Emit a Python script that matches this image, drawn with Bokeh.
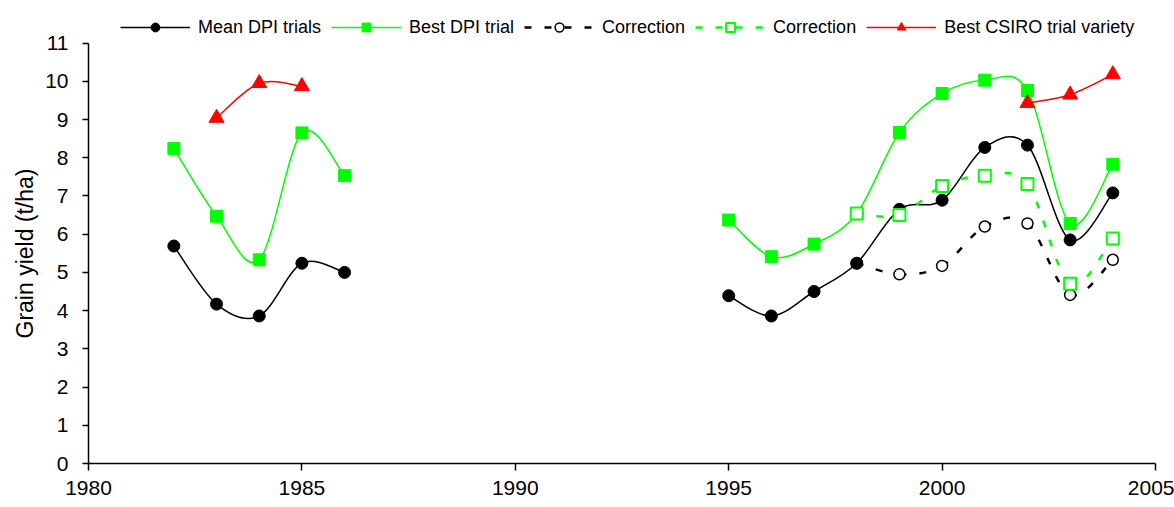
import math
from bokeh.plotting import figure
from bokeh.models import Range1d, FixedTicker, Legend, LegendItem, ColumnDataSource, Title
from bokeh.core.properties import value
from bokeh.embed import file_html
from bokeh.resources import INLINE

# ---------------- data ----------------
years_early = [1982, 1983, 1984, 1985, 1986]
mean_early = [5.69, 4.17, 3.86, 5.24, 5.00]
best_early = [8.24, 6.47, 5.33, 8.65, 7.53]

csiro_years_early = [1983, 1984, 1985]
csiro_early = [9.04, 9.95, 9.87]

years_late = [1995, 1996, 1997, 1998, 1999, 2000, 2001, 2002, 2003, 2004]
mean_late = [4.39, 3.86, 4.50, 5.24, 6.65, 6.89, 8.27, 8.33, 5.85, 7.08]
best_late = [6.37, 5.41, 5.74, 6.54, 8.66, 9.68, 10.03, 9.76, 6.28, 7.83]

corr_years = [1998, 1999, 2000, 2001, 2002, 2003, 2004]
corr_mean = [5.24, 4.95, 5.17, 6.20, 6.28, 4.41, 5.33]
corr_best = [6.54, 6.50, 7.26, 7.53, 7.31, 4.70, 5.89]

csiro_years_late = [2002, 2003, 2004]
csiro_late = [9.43, 9.65, 10.18]

x_ticks = [1980, 1985, 1990, 1995, 2000, 2005]
y_ticks = list(range(0, 12))
y_title = "Grain yield  (t/ha)"

BLACK = "#000000"
GREEN = "#00FF00"
RED = "#FF0000"
FONT = "Liberation Sans"
NAN = float("nan")


def smooth_source(xs, ys):
    """Bezier segments through the data points (Excel-style smoothed line)."""
    n = len(xs)
    d = dict(x0=[], y0=[], x1=[], y1=[], cx0=[], cy0=[], cx1=[], cy1=[])
    for i in range(n - 1):
        xp, yp = (xs[i - 1], ys[i - 1]) if i > 0 else (xs[i], ys[i])
        xn, yn = (xs[i + 2], ys[i + 2]) if i + 2 < n else (xs[i + 1], ys[i + 1])
        d["x0"].append(xs[i]); d["y0"].append(ys[i])
        d["x1"].append(xs[i + 1]); d["y1"].append(ys[i + 1])
        d["cx0"].append(xs[i] + (xs[i + 1] - xp) / 6.0)
        d["cy0"].append(ys[i] + (ys[i + 1] - yp) / 6.0)
        d["cx1"].append(xs[i + 1] - (xn - xs[i]) / 6.0)
        d["cy1"].append(ys[i + 1] - (yn - ys[i]) / 6.0)
    return ColumnDataSource(d)


p = figure(width=1174, height=507, output_backend="svg", toolbar_location=None,
           x_range=Range1d(1980, 2005), y_range=Range1d(0, 11.80),
           min_border_left=88, min_border_right=19, min_border_top=12, min_border_bottom=44)
p.outline_line_color = None
p.xgrid.visible = False
p.ygrid.visible = False
p.background_fill_color = "white"
p.border_fill_color = "white"


def curve(xs, ys, color, width, dash="solid"):
    p.bezier(x0="x0", y0="y0", x1="x1", y1="y1", cx0="cx0", cy0="cy0", cx1="cx1", cy1="cy1",
             source=smooth_source(xs, ys), line_color=color, line_width=width, line_dash=dash)


# Best DPI trial (green, filled squares)
curve(years_early, best_early, GREEN, 1.5)
curve(years_late, best_late, GREEN, 1.5)
best_pts = p.scatter(years_early + years_late, best_early + best_late, marker="square", size=12,
                     fill_color=GREEN, line_color=GREEN)

# Correction (black dashed, hollow circles)
curve(corr_years, corr_mean, BLACK, 2.5, "7 13")
corr_mean_pts = p.scatter(corr_years, corr_mean, marker="circle", size=11,
                          fill_color="white", line_color=BLACK, line_width=1.5)

# Mean DPI trials (black, filled circles)
curve(years_early, mean_early, BLACK, 1.5)
curve(years_late, mean_late, BLACK, 1.5)
mean_pts = p.scatter(years_early + years_late, mean_early + mean_late, marker="circle", size=12,
                     fill_color=BLACK, line_color=BLACK)

# Correction (green dashed, hollow squares)
curve(corr_years, corr_best, GREEN, 2.5, "7 13")
corr_best_pts = p.scatter(corr_years, corr_best, marker="square", size=12,
                          fill_color="white", line_color=GREEN, line_width=2)

# Best CSIRO trial variety (red triangles)
curve(csiro_years_early, csiro_early, RED, 1.5)
curve(csiro_years_late, csiro_late, RED, 1.5)
csiro_pts = p.scatter(csiro_years_early + csiro_years_late, csiro_early + csiro_late,
                      marker="triangle", size=15, fill_color=RED, line_color=RED)

# legend line samples (style only, nothing drawn in the plot)
lg_mean = p.line(x=[NAN], y=[NAN], line_color=BLACK, line_width=1.5)
lg_best = p.line(x=[NAN], y=[NAN], line_color=GREEN, line_width=1.5)
lg_cm = p.line(x=[NAN], y=[NAN], line_color=BLACK, line_width=2.5, line_dash="7 13")
lg_cb = p.line(x=[NAN], y=[NAN], line_color=GREEN, line_width=2.5, line_dash="7 13")
lg_cs = p.line(x=[NAN], y=[NAN], line_color=RED, line_width=1.5)

legend = Legend(items=[
    LegendItem(label=value("Mean DPI trials"), renderers=[lg_mean, mean_pts]),
    LegendItem(label=value("Best DPI trial"), renderers=[lg_best, best_pts]),
    LegendItem(label=value("Correction"), renderers=[lg_cm, corr_mean_pts]),
    LegendItem(label=value("Correction"), renderers=[lg_cb, corr_best_pts]),
    LegendItem(label=value("Best CSIRO trial variety"), renderers=[lg_cs, csiro_pts]),
], location=(32, 425), orientation="horizontal")
legend.glyph_width = 70
legend.glyph_height = 22
legend.label_height = 22
legend.label_standoff = 8
legend.spacing = 10
legend.padding = 0
legend.margin = 0
legend.border_line_color = None
legend.background_fill_alpha = 0
legend.label_text_font = FONT
legend.label_text_font_size = "18px"
legend.label_text_color = BLACK
p.add_layout(legend)

# axes
xa = p.xaxis[0]
xa.ticker = FixedTicker(ticks=x_ticks)
xa.minor_tick_line_color = None
xa.major_tick_in = 0
xa.major_tick_out = 7
xa.axis_line_width = 1.5
xa.major_tick_line_width = 1.5
xa.axis_line_color = BLACK
xa.major_tick_line_color = BLACK
xa.major_label_text_font = FONT
xa.major_label_text_font_size = "21px"
xa.major_label_text_color = BLACK
xa.major_label_standoff = 10

ya = p.yaxis[0]
ya.ticker = FixedTicker(ticks=y_ticks)
ya.bounds = (0, 11)
ya.minor_tick_line_color = None
ya.major_tick_in = 0
ya.major_tick_out = 6
ya.axis_line_width = 1.5
ya.major_tick_line_width = 1.5
ya.axis_line_color = BLACK
ya.major_tick_line_color = BLACK
ya.major_label_text_font = FONT
ya.major_label_text_font_size = "21px"
ya.major_label_text_color = BLACK
ya.major_label_standoff = 14

# y-axis title as a left-side title, placed to centre on the 0-11 span
p.add_layout(Title(text=y_title, align="left", offset=125, text_font=FONT,
                   text_font_size="23px", text_font_style="normal", text_color=BLACK), "left")

open("out.html", "w").write(file_html(p, INLINE))
